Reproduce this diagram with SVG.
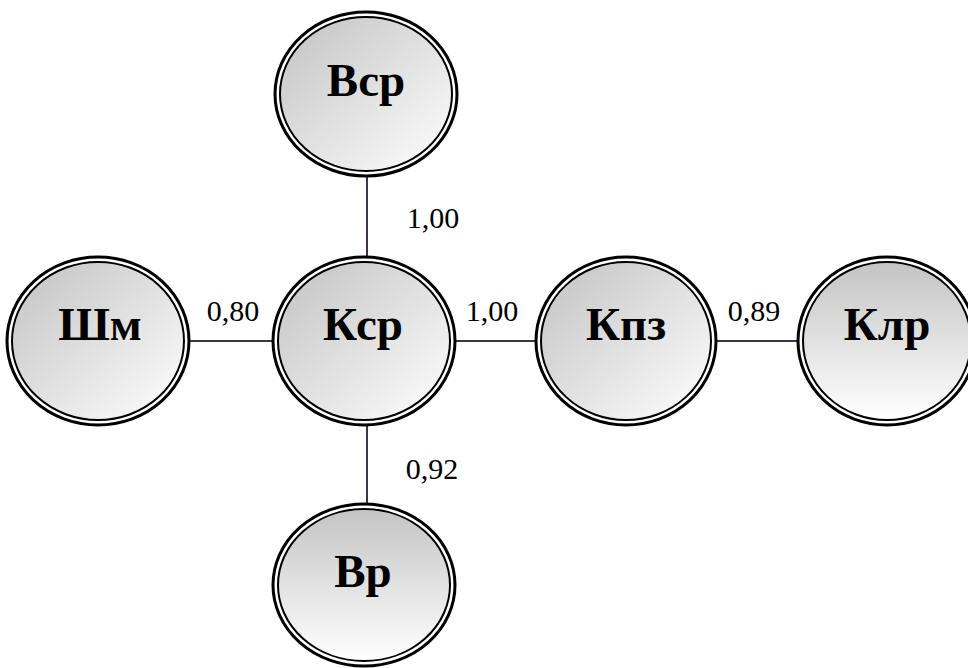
<svg xmlns="http://www.w3.org/2000/svg" width="968" height="668" viewBox="0 0 968 668">
  <defs>
    <linearGradient id="diag" x1="0" y1="0" x2="1" y2="1">
      <stop offset="0.1" stop-color="#c8c8c8"/>
      <stop offset="1" stop-color="#ffffff"/>
    </linearGradient>
    <linearGradient id="vert" x1="0" y1="0" x2="0" y2="1">
      <stop offset="0" stop-color="#c4c4c4"/>
      <stop offset="1" stop-color="#ffffff"/>
    </linearGradient>
  </defs>
  <style>
    .outer { fill: #ffffff; stroke: #000000; stroke-width: 3; }
    .inner { stroke: #000000; stroke-width: 2; }
    .name { font-family: "Liberation Serif", "Times New Roman", serif; font-weight: bold; font-size: 47px; text-anchor: middle; fill: #000000; }
    .weight { font-family: "Liberation Serif", "Times New Roman", serif; font-size: 30px; text-anchor: middle; fill: #000000; }
    .edge { stroke: #3f3151; stroke-width: 2; fill: none; }
  </style>

  <!-- connectors with their weights -->
  <g id="connectors">
    <line class="edge" x1="367" y1="175" x2="367" y2="258"/>
    <line class="edge" x1="367" y1="424" x2="367" y2="506"/>
    <line class="edge" x1="189" y1="341" x2="274" y2="341"/>
    <line class="edge" x1="455" y1="341" x2="537" y2="341"/>
    <line class="edge" x1="716" y1="341" x2="799" y2="341"/>
    <text class="weight" x="433" y="228">1,00</text>
    <text class="weight" x="233" y="321">0,80</text>
    <text class="weight" x="492" y="321">1,00</text>
    <text class="weight" x="754" y="321">0,89</text>
    <text class="weight" x="432" y="479">0,92</text>
  </g>

  <g id="node-vsr">
    <ellipse class="outer" cx="366" cy="94" rx="91" ry="82"/>
    <ellipse class="inner" fill="url(#diag)" cx="366" cy="94" rx="86" ry="77"/>
    <text class="name" x="366" y="96">Вср</text>
  </g>

  <g id="node-ksr">
    <ellipse class="outer" cx="364" cy="341" rx="91" ry="84"/>
    <ellipse class="inner" fill="url(#diag)" cx="364" cy="341" rx="86" ry="79"/>
    <text class="name" x="363" y="340">Кср</text>
  </g>

  <g id="node-shm">
    <ellipse class="outer" cx="98" cy="341" rx="91" ry="84"/>
    <ellipse class="inner" fill="url(#diag)" cx="98" cy="341" rx="86" ry="79"/>
    <text class="name" x="100" y="340">Шм</text>
  </g>

  <g id="node-kpz">
    <ellipse class="outer" cx="626" cy="341" rx="90" ry="84"/>
    <ellipse class="inner" fill="url(#diag)" cx="626" cy="341" rx="85" ry="79"/>
    <text class="name" x="626" y="340">Кпз</text>
  </g>

  <g id="node-klr">
    <ellipse class="outer" cx="887" cy="341" rx="89" ry="84"/>
    <ellipse class="inner" fill="url(#vert)" cx="887" cy="341" rx="84" ry="79"/>
    <text class="name" x="887" y="340">Клр</text>
  </g>

  <g id="node-vr">
    <ellipse class="outer" cx="364" cy="585" rx="91" ry="81"/>
    <ellipse class="inner" fill="url(#vert)" cx="364" cy="585" rx="86" ry="76"/>
    <text class="name" x="363" y="587">Вр</text>
  </g>
</svg>
